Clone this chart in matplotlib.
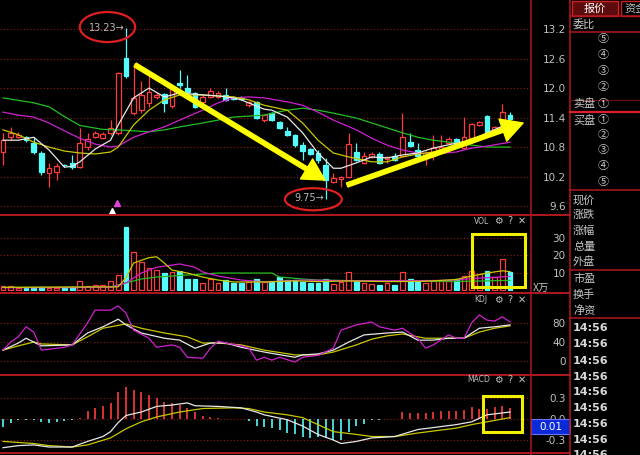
import matplotlib
matplotlib.use('Agg')
import matplotlib.pyplot as plt
from matplotlib.patches import Ellipse, Rectangle
import numpy as np

plt.rcParams['font.family'] = ['Noto Sans CJK SC', 'DejaVu Sans']

W, H = 640, 455

# ---- daily candles ----
opens = [10.70, 11.00, 11.00, 11.00, 10.88, 10.68, 10.27, 10.29, 10.44, 10.48,
         10.39, 10.80, 11.00, 10.98, 11.09, 11.09, 12.61, 11.50, 11.55, 11.70,
         11.82, 11.88, 11.63, 12.10, 12.00, 11.90, 11.71, 11.82, 11.82, 11.86,
         11.80, 11.80, 11.66, 11.72, 11.35, 11.49, 11.31, 11.13, 11.05, 10.84,
         10.76, 10.68, 10.43, 10.09, 10.15, 10.19, 10.70, 10.48, 10.60, 10.66,
         10.56, 10.62, 10.62, 10.90, 10.74, 10.62, 10.66, 10.74, 10.88, 10.96,
         10.78, 10.98, 11.25, 11.43, 11.15, 11.29, 11.45]
closes = [10.94, 11.09, 11.04, 10.94, 10.70, 10.29, 10.37, 10.41, 10.43, 10.39,
          10.88, 10.96, 11.09, 11.07, 11.19, 12.31, 12.24, 11.80, 11.85, 11.92,
          11.85, 11.70, 12.00, 12.06, 11.92, 11.61, 11.82, 11.94, 11.90, 11.76,
          11.78, 11.78, 11.72, 11.39, 11.45, 11.35, 11.19, 11.05, 10.84, 10.72,
          10.66, 10.54, 10.13, 10.17, 10.20, 10.86, 10.54, 10.62, 10.66, 10.48,
          10.60, 10.54, 11.00, 10.82, 10.62, 10.68, 10.78, 10.80, 10.96, 10.86,
          11.00, 11.27, 11.31, 11.11, 11.20, 11.51, 11.37]
highs = [11.09, 11.21, 11.10, 11.02, 11.00, 10.72, 10.48, 10.47, 10.46, 10.64,
         11.19, 11.09, 11.12, 11.10, 11.35, 12.33, 13.23, 12.50, 12.15, 12.25,
         11.90, 11.90, 12.05, 12.37, 12.27, 11.92, 11.85, 12.00, 11.94, 12.00,
         11.84, 11.83, 11.74, 11.74, 11.47, 11.52, 11.33, 11.21, 11.07, 10.90,
         10.78, 10.74, 10.58, 10.27, 10.22, 11.09, 10.88, 10.70, 10.70, 10.70,
         10.62, 10.68, 11.49, 11.09, 10.88, 10.72, 11.04, 11.04, 11.00, 10.98,
         11.41, 11.29, 11.33, 11.45, 11.22, 11.68, 11.51]
lows = [10.44, 10.94, 10.98, 10.90, 10.66, 10.23, 9.99, 10.13, 10.39, 10.36,
        10.37, 10.74, 10.98, 10.96, 11.05, 11.05, 12.20, 11.45, 11.50, 11.62,
        11.78, 11.51, 11.60, 12.00, 11.90, 11.60, 11.65, 11.80, 11.80, 11.74,
        11.76, 11.76, 11.62, 11.37, 11.30, 11.33, 11.17, 11.03, 10.80, 10.54,
        10.64, 10.48, 9.75, 10.07, 9.99, 10.17, 10.52, 10.46, 10.58, 10.46,
        10.48, 10.52, 10.60, 10.80, 10.60, 10.44, 10.54, 10.72, 10.86, 10.84,
        10.76, 10.96, 11.23, 11.09, 11.13, 11.27, 11.33]

# moving averages (bar index, price)
ma5_idx = [0, 2, 4, 6, 8, 9, 10, 12, 14, 15, 17, 19, 21, 23, 26, 28, 30, 31, 34, 35,
           37, 39, 41, 43, 44, 46, 48, 50, 52, 54, 56, 59, 61, 63, 66]
ma5 = [10.94, 10.94, 11.00, 10.74, 10.39, 10.41, 10.50, 10.76, 10.94, 11.25, 11.80, 12.00,
       11.82, 11.90, 11.86, 11.84, 11.80, 11.76, 11.57, 11.55, 11.41, 11.09, 10.68, 10.37,
       10.37, 10.48, 10.60, 10.58, 10.64, 10.68, 10.78, 10.88, 10.94, 11.09, 11.29]
ma10_idx = [0, 2, 4, 6, 8, 10, 12, 14, 15, 17, 19, 21, 23, 26, 28, 30, 32, 34, 37, 39,
            41, 43, 45, 48, 50, 52, 54, 56, 59, 61, 63, 66]
ma10 = [11.15, 11.05, 10.90, 10.80, 10.72, 10.68, 10.66, 10.70, 10.80, 11.25, 11.55, 11.76,
        11.86, 11.86, 11.84, 11.82, 11.76, 11.65, 11.55, 11.29, 10.94, 10.68, 10.60, 10.50,
        10.50, 10.60, 10.66, 10.70, 10.80, 10.88, 11.05, 11.29]
ma20_idx = [0, 2, 4, 6, 8, 10, 12, 14, 15, 17, 19, 21, 23, 26, 28, 30, 32, 34, 37, 39,
            41, 43, 46, 48, 50, 52, 54, 56, 59, 61, 63, 66]
ma20 = [11.51, 11.45, 11.41, 11.29, 11.13, 10.98, 10.86, 10.80, 10.82, 11.00, 11.11, 11.21,
        11.35, 11.55, 11.70, 11.80, 11.82, 11.80, 11.72, 11.65, 11.51, 11.35, 11.15, 10.98,
        10.84, 10.74, 10.68, 10.66, 10.70, 10.78, 10.82, 10.90]
ma60_idx = [0, 4, 6, 8, 10, 13, 15, 17, 19, 21, 23, 26, 28, 30, 32, 34, 37, 39, 41, 43,
            46, 48, 50, 52, 54, 56, 59, 61, 63, 66]
ma60 = [11.80, 11.70, 11.62, 11.42, 11.24, 11.16, 11.15, 11.13, 11.11, 11.15, 11.21, 11.29,
        11.35, 11.41, 11.43, 11.45, 11.55, 11.59, 11.55, 11.49, 11.39, 11.29, 11.19, 11.09,
        11.00, 10.94, 10.88, 10.84, 10.80, 10.80]

price_ticks = [9.6, 10.2, 10.8, 11.4, 12.0, 12.6, 13.2]

# ---- volume (x万) ----
volume = [2.3, 2.3, 1.0, 1.3, 1.3, 1.5, 1.0, 1.0, 1.5, 1.5,
          5.1, 2.3, 2.7, 2.7, 5.3, 8.6, 36.0, 21.7, 16.0, 12.6,
          11.4, 9.7, 10.3, 10.9, 6.3, 6.3, 4.0, 6.3, 4.0, 5.7,
          4.0, 4.0, 4.3, 6.3, 4.3, 4.8, 7.6, 5.7, 6.0, 4.8,
          4.2, 4.0, 6.3, 3.4, 4.6, 10.3, 5.1, 3.8, 3.4, 2.9,
          4.2, 2.9, 10.3, 6.3, 4.8, 3.8, 4.9, 4.9, 4.9, 6.3,
          8.0, 11.0, 9.0, 11.0, 7.6, 17.5, 10.3]
vma5_idx = [0, 15, 16, 17, 19, 20, 21, 22, 24, 26, 28, 30, 34, 38, 41, 45, 50, 55, 59, 61,
            63, 65, 66]
vma5 = [1.5, 1.8, 7.0, 15.4, 18.5, 19.0, 15.4, 11.4, 9.7, 7.4, 5.7, 4.6, 4.6, 5.2, 4.8,
        5.2, 4.8, 5.0, 6.0, 8.0, 9.7, 11.0, 10.5]
vma10_idx = [0, 14, 16, 18, 20, 23, 25, 26, 28, 31, 34, 39, 45, 52, 58, 61, 66]
vma10 = [1.3, 1.5, 4.0, 9.7, 13.0, 14.9, 13.0, 10.3, 8.0, 5.7, 4.6, 5.7, 5.3, 5.3, 5.5, 6.5, 7.8]
vma20_idx = [0, 14, 15, 18, 20, 24, 28, 35, 36, 39, 41, 50, 60, 66]
vma20 = [1.5, 1.6, 2.9, 6.3, 7.4, 8.6, 9.7, 9.7, 7.4, 6.3, 5.7, 5.0, 5.0, 5.5]
vol_ticks = [10, 20, 30]

# ---- KDJ ----
j_idx = [0, 1, 2, 3, 4, 5, 7, 8, 9, 11, 12, 14, 15, 16, 17, 19, 20, 22, 23, 24, 26, 27,
         28, 29, 31, 32, 33, 34, 35, 36, 38, 39, 41, 43, 44, 46, 48, 49, 51, 52, 54, 55,
         56, 58, 59, 60, 61, 62, 63, 64, 65, 66]
j_val = [23, 40, 51, 72, 61, 23, 27, 29, 34, 80, 107, 107, 116, 101, 65, 48, 29, 34, 29, 8,
         6, 27, 42, 38, 32, 27, 2, 8, 2, 8, -2, 8, 12, 27, 65, 76, 82, 72, 65, 69, 48, 27,
         34, 55, 48, 48, 80, 97, 86, 84, 93, 82]
k_idx = [0, 2, 3, 4, 5, 9, 11, 13, 15, 16, 18, 21, 23, 25, 27, 29, 31, 34, 38, 39, 41, 43,
         45, 47, 50, 52, 54, 56, 58, 60, 62, 64, 66]
k_val = [23, 38, 48, 40, 32, 34, 59, 72, 88, 76, 59, 48, 44, 27, 38, 38, 29, 19, 8, 13, 15,
         23, 40, 55, 59, 61, 44, 44, 48, 48, 69, 72, 76]
d_idx = [0, 2, 4, 5, 9, 11, 13, 16, 18, 21, 24, 26, 28, 31, 34, 38, 41, 43, 46, 48, 50, 52,
         55, 58, 60, 62, 64, 66]
d_val = [23, 32, 40, 36, 34, 51, 69, 78, 69, 59, 51, 38, 38, 34, 23, 13, 13, 19, 34, 46, 53,
         57, 48, 48, 48, 61, 69, 74]
kdj_ticks = [0, 40, 80]

# ---- MACD ----
macd_hist = [-0.12, -0.06, -0.02, -0.01, -0.01, -0.04, -0.05, -0.04, -0.03, -0.01,
             0.01, 0.11, 0.16, 0.19, 0.23, 0.38, 0.46, 0.42, 0.38, 0.35,
             0.30, 0.24, 0.23, 0.20, 0.16, 0.10, 0.04, 0.03, 0.01, 0.005,
             0.005, -0.005, -0.03, -0.10, -0.11, -0.13, -0.15, -0.20, -0.22, -0.25,
             -0.27, -0.25, -0.27, -0.30, -0.30, -0.18, -0.10, -0.07, -0.02, -0.01,
             0.0, 0.0, 0.10, 0.09, 0.09, 0.09, 0.10, 0.12, 0.12, 0.12,
             0.13, 0.17, 0.15, 0.15, 0.17, 0.18, 0.16]
dif_idx = [0, 2, 4, 6, 9, 11, 13, 14, 15, 16, 18, 20, 22, 24, 25, 28, 31, 33, 34, 37, 39,
           41, 43, 44, 46, 48, 51, 54, 59, 61, 63, 66]
dif = [-0.41, -0.38, -0.37, -0.40, -0.40, -0.32, -0.25, -0.18, -0.05, 0.05, 0.10, 0.18,
       0.20, 0.23, 0.19, 0.18, 0.16, 0.10, 0.06, -0.01, -0.10, -0.22, -0.30, -0.35, -0.32,
       -0.27, -0.25, -0.15, -0.08, -0.04, 0.06, 0.10]
dea_idx = [0, 4, 6, 9, 11, 14, 16, 18, 20, 23, 26, 30, 32, 34, 37, 39, 41, 43, 46, 48, 51,
           54, 59, 61, 63, 66]
dea = [-0.32, -0.35, -0.38, -0.40, -0.37, -0.27, -0.14, -0.04, 0.03, 0.10, 0.15, 0.16,
       0.15, 0.10, 0.06, 0.02, -0.08, -0.18, -0.22, -0.25, -0.25, -0.20, -0.13, -0.08,
       -0.04, 0.02]
macd_ticks = [-0.3, 0.0, 0.3]

RED = '#ff3c3c'
CYAN = '#54fcfc'
GRID = '#8c1c1c'
LBL = '#c0c0c0'

fig = plt.figure(figsize=(W / 100, H / 100), dpi=100, facecolor='black')


def panel(top, bottom, ylim, ticks, labels):
    ax = fig.add_axes([0, 1 - bottom / H, 531 / W, (bottom - top) / H])
    ax.set_facecolor('black')
    for s in ax.spines.values():
        s.set_visible(False)
    ax.set_xlim(-0.39, 68.73)
    ax.set_ylim(*ylim)
    ax.set_xticks([])
    ax.yaxis.tick_right()
    ax.set_yticks(ticks)
    ax.set_yticklabels(labels, family='DejaVu Sans')
    ax.tick_params(axis='y', length=0, pad=25, labelsize=7.5, labelcolor=LBL)
    for lab in ax.get_yticklabels():
        lab.set_horizontalalignment('right')
    ax.grid(axis='y', color=GRID, linestyle=(0, (1, 2)), linewidth=0.8)
    ax.set_axisbelow(True)
    return ax


x = np.arange(len(opens))
o = np.array(opens)
c = np.array(closes)
up = c >= o
col = np.where(up, RED, CYAN)

# ---- price panel ----
ax = panel(0, 214, (9.44, 13.79), price_ticks, ['%.1f' % p for p in price_ticks])
ax.vlines(x, lows, highs, colors=col, linewidth=0.9, zorder=2)
ax.bar(x, np.maximum(np.abs(c - o), 0.012), bottom=np.minimum(o, c), width=0.62,
       color=np.where(up, 'black', CYAN), edgecolor=col, linewidth=0.9, zorder=3)
ax.plot(ma60_idx, ma60, color='#20c020', lw=0.9, zorder=4)
ax.plot(ma20_idx, ma20, color='#d020d0', lw=0.9, zorder=4)
ax.plot(ma10_idx, ma10, color='#c8c800', lw=0.9, zorder=4)
ax.plot(ma5_idx, ma5, color='#e8e8e8', lw=0.9, zorder=4)

arrow = dict(arrowstyle='simple,head_length=1.1,head_width=1.2,tail_width=0.22',
             color='#ffff00', mutation_scale=14, shrinkA=0, shrinkB=0)
ax.annotate('', xy=(41.9, 10.13), xytext=(17.2, 12.47), arrowprops=arrow, zorder=6)
ax.annotate('', xy=(67.7, 11.29), xytext=(44.8, 10.03), arrowprops=arrow, zorder=6)

ax.text(15.9, 13.23, '13.23→', color='#b8b8b8', fontsize=7, ha='right', va='center',
        family='DejaVu Sans', zorder=6)
ax.add_patch(Ellipse((13.6, 13.24), 7.2, 0.61, fill=False, edgecolor='#e02020', lw=1.6,
                     zorder=6, clip_on=False))
ax.text(41.8, 9.77, '9.75→', color='#b8b8b8', fontsize=7, ha='right', va='center',
        family='DejaVu Sans', zorder=6)
ax.add_patch(Ellipse((40.4, 9.74), 7.4, 0.45, fill=False, edgecolor='#e02020', lw=1.6,
                     zorder=6, clip_on=False))
ax.plot([14.8], [9.66], marker='^', color='#e040e0', ms=4, zorder=6)
ax.plot([14.2], [9.50], marker='^', color='white', ms=4, zorder=6)

# ---- volume panel ----
av = panel(215, 291, (-0.57, 42.9), vol_ticks, [str(t) for t in vol_ticks])
av.bar(x, volume, width=0.62, color=np.where(up, 'black', CYAN), edgecolor=col,
       linewidth=0.9, zorder=3)
av.plot(vma20_idx, vma20, color='#20c020', lw=0.9, zorder=4)
av.plot(vma10_idx, vma10, color='#d020d0', lw=0.9, zorder=4)
av.plot(vma5_idx, vma5, color='#c8c800', lw=0.9, zorder=4)
av.add_patch(Rectangle((61.1, 1.7), 6.9, 30.3, fill=False, edgecolor='#f0f000', lw=2.2,
                       zorder=6))

# ---- KDJ panel ----
ak = panel(293, 373, (-25, 143), kdj_ticks, [str(t) for t in kdj_ticks])
ak.plot(d_idx, d_val, color='#c8c800', lw=0.9)
ak.plot(k_idx, k_val, color='#e8e8e8', lw=0.9)
ak.plot(j_idx, j_val, color='#d020d0', lw=0.9)

# ---- MACD panel ----
am = panel(375, 455, (-0.514, 0.629), macd_ticks, ['-0.3', '0.0', '0.3'])
h = np.array(macd_hist)
am.vlines(x, 0, h, colors=np.where(h >= 0, RED, CYAN), linewidth=1.2, zorder=3)
am.plot(dea_idx, dea, color='#c8c800', lw=0.9, zorder=4)
am.plot(dif_idx, dif, color='#e8e8e8', lw=0.9, zorder=4)
am.add_patch(Rectangle((62.5, -0.186), 5.1, 0.515, fill=False, edgecolor='#f0f000', lw=2.2,
                       zorder=6))

# ---- frame, right-hand quote panel (pixel overlay) ----
ov = fig.add_axes([0, 0, 1, 1], zorder=10)
ov.set_xlim(0, W)
ov.set_ylim(H, 0)
ov.axis('off')
ov.patch.set_alpha(0)

BORDER = '#b01820'
for xv in (531, 570):
    ov.plot([xv, xv], [0, H], color=BORDER, lw=1.1)
for yv in (215, 293, 375, 453):
    ov.plot([0, 570], [yv, yv], color=BORDER, lw=1.4)
for yv in (16, 32, 190, 270, 318):
    ov.plot([570, W], [yv, yv], color=BORDER, lw=1.1)
ov.plot([570, W], [100, 100], color='#701010', lw=0.8)
ov.plot([570, W], [112, 112], color='#e02020', lw=1.6)

for ttl, tx, ty in (('VOL', 474, 221), ('KDJ', 474, 300), ('MACD', 467, 380)):
    ov.text(tx, ty, ttl, color=LBL, fontsize=5.5, va='center', family='DejaVu Sans')
    ov.text(498, ty, '⚙', color=LBL, fontsize=7, ha='center', va='center',
            family='DejaVu Sans')
    ov.text(510, ty, '?', color=LBL, fontsize=7, ha='center', va='center',
            family='DejaVu Sans')
    ov.text(522, ty, '✕', color=LBL, fontsize=7, ha='center', va='center',
            family='DejaVu Sans')

ov.text(533, 288, 'X万', color=LBL, fontsize=7.5, va='center')
ov.add_patch(Rectangle((531, 419), 39, 15, facecolor='#0a2ad8', edgecolor='#7070ff', lw=0.8))
ov.text(550.5, 427, '0.01', color='white', fontsize=7.5, ha='center', va='center',
        family='DejaVu Sans')

ov.add_patch(Rectangle((572, 0.5), 46, 15, facecolor='#5c0c0c', edgecolor='#d02020', lw=1))
ov.text(595, 8.5, '报价', color='white', fontsize=8, ha='center', va='center')
ov.add_patch(Rectangle((621, 0.5), 30, 15, facecolor='black', edgecolor='#d02020', lw=1))
ov.text(624, 8.5, '资金', color=LBL, fontsize=8, va='center')

TXT = '#c8c8c8'
ov.text(573, 24, '委比', color=TXT, fontsize=8, va='center')
for lab, yv in (('⑤', 39), ('④', 55), ('③', 71), ('②', 87)):
    ov.text(603, yv, lab, color=TXT, fontsize=8, ha='center', va='center')
ov.text(573, 104, '卖盘', color=TXT, fontsize=8, va='center')
ov.text(603, 104, '①', color=TXT, fontsize=8, ha='center', va='center')
ov.text(573, 120, '买盘', color=TXT, fontsize=8, va='center')
for lab, yv in (('①', 120), ('②', 135), ('③', 150), ('④', 166), ('⑤', 182)):
    ov.text(603, yv, lab, color=TXT, fontsize=8, ha='center', va='center')
for lab, yv in (('现价', 200), ('涨跌', 215), ('涨幅', 231), ('总量', 247), ('外盘', 262),
                ('市盈', 279), ('换手', 295), ('净资', 311)):
    ov.text(573, yv, lab, color=TXT, fontsize=8, va='center')
for yv in (328, 344, 361, 377, 392, 408, 424, 440, 455):
    ov.text(573, yv, '14:56', color='#d8d8d8', fontsize=8, va='center',
            family='DejaVu Sans', weight='bold')

fig.savefig('out.png', dpi=100, facecolor='black')
